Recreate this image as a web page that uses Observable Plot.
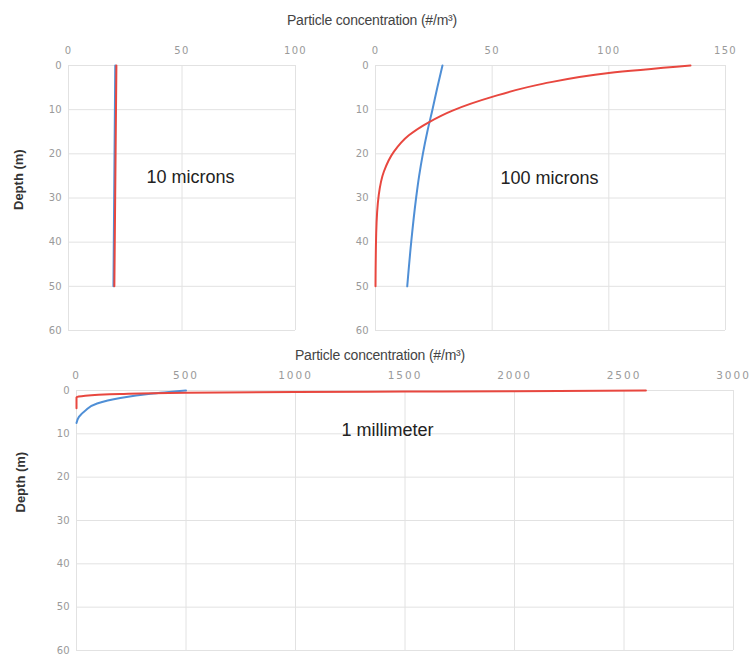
<!DOCTYPE html>
<html>
<head>
<meta charset="utf-8">
<script src="https://cdn.jsdelivr.net/npm/d3@7"></script>
<script src="https://cdn.jsdelivr.net/npm/@observablehq/plot@0.6"></script>
<style>
  html, body { margin: 0; padding: 0; background: #fff; }
  #wrap { position: relative; width: 755px; height: 657px; overflow: hidden; font-family: "Liberation Sans", Arial, sans-serif; }
  .panel { position: absolute; }
  .title { position: absolute; font-size: 14px; color: #444; white-space: nowrap; transform: translate(-50%, -50%); letter-spacing: -0.2px; }
  .panel svg g[aria-label="x-axis tick label"] text { font-family: "DejaVu Sans", sans-serif !important; letter-spacing: 1.3px; font-size: 10px; }
  .panel.wide svg g[aria-label="x-axis tick label"] text { letter-spacing: 2px; font-size: 10.5px; }
  .panel svg g[aria-label="y-axis tick label"] text { font-family: "DejaVu Sans", sans-serif !important; font-size: 10px; }
</style>
</head>
<body>
<div id="wrap"></div>
<script>
// ---- data ----
const titleText = "Particle concentration (#/m³)";
const depthLabel = "Depth (m)";
const depthTicks = [0, 10, 20, 30, 40, 50, 60];

// 10 microns
const p1Label = "10 microns";
const p1Ticks = [0, 50, 100];
const p1BlueDepth = [0, 50];
const p1BlueConc  = [20.6, 19.8];
const p1RedDepth  = [0, 50];
const p1RedConc   = [21.1, 20.2];

// 100 microns
const p2Label = "100 microns";
const p2Ticks = [0, 50, 100, 150];
const p2BlueDepth = [0, 5, 10, 15, 20, 25, 30, 40, 50];
const p2BlueConc  = [28.7, 26.5, 24.4, 22.2, 20.3, 18.7, 17.4, 15.3, 13.6];
const p2RedDepth  = [0, 1.7, 4.1, 7.1, 10.2, 12.8, 15.8, 19.5, 24, 29.3, 38, 50];
const p2RedConc   = [135, 100, 72, 50, 33, 23, 14.3, 7.9, 3.6, 1.4, 0.3, 0];

// 1 millimeter
const p3Label = "1 millimeter";
const p3Ticks = [0, 500, 1000, 1500, 2000, 2500, 3000];
const p3BlueDepth = [0, 0.75, 1.75, 3.0, 4.6, 6.1, 7.5];
const p3BlueConc  = [500, 338, 200, 94, 41, 11, 0];
const p3RedDepth  = [0, 0.15, 0.25, 0.35, 0.5, 0.8, 1.0, 1.2, 1.4, 1.55, 4.1];
const p3RedConc   = [2600, 2000, 1500, 1000, 500, 200, 100, 40, 10, 0, 0];

const blue = "#4f8fd6";
const red = "#e8473f";

const toRows = (depth, conc) => depth.map((d, i) => ({depth: d, conc: conc[i]}));

function panel({width, height, mt, mr, mb, ml, xDomain, xTicks, label, labelDx, labelDy, blueRows, redRows, showDepth, depthDx, depthDy}) {
  return Plot.plot({
    width, height,
    marginTop: mt, marginRight: mr, marginBottom: mb, marginLeft: ml,
    style: {fontFamily: "Liberation Sans, Arial, sans-serif", fontSize: "10px", background: "transparent", overflow: "visible"},
    x: {domain: xDomain},
    y: {domain: [0, 60], reverse: true},
    marks: [
      Plot.gridX(xTicks, {stroke: "#e2e2e2", strokeOpacity: 1}),
      Plot.gridY(depthTicks, {stroke: "#e2e2e2", strokeOpacity: 1}),
      Plot.axisX(xTicks, {anchor: "top", tickSize: 0, tickPadding: 12, label: null, tickFormat: (d) => String(d), fill: "#9a9a9a"}),
      Plot.axisY(depthTicks, {anchor: "left", tickSize: 0, tickPadding: 7, label: null, tickFormat: (d) => String(d), fill: "#9a9a9a"}),
      Plot.line(blueRows, {x: "conc", y: "depth", stroke: blue, strokeWidth: 2, curve: "monotone-y"}),
      Plot.line(redRows, {x: "conc", y: "depth", stroke: red, strokeWidth: 2, curve: "monotone-y"}),
      Plot.text([label], {frameAnchor: "middle", dx: labelDx, dy: labelDy, fontSize: 18, fill: "#222"}),
      showDepth ? Plot.text([depthLabel], {frameAnchor: "left", rotate: -90, dx: depthDx, dy: depthDy, fontSize: 13, fontWeight: "bold", fill: "#333"}) : null
    ]
  });
}

const wrap = document.getElementById("wrap");
function place(node, left, top, cls) {
  const d = document.createElement("div");
  d.className = "panel" + (cls ? " " + cls : "");
  d.style.left = left + "px";
  d.style.top = top + "px";
  d.appendChild(node);
  wrap.appendChild(d);
}
function title(text, cx, cy) {
  const d = document.createElement("div");
  d.className = "title";
  d.style.left = cx + "px";
  d.style.top = cy + "px";
  d.textContent = text;
  wrap.appendChild(d);
}

place(panel({width: 320, height: 340, mt: 65, mr: 25, mb: 10, ml: 68,
  xDomain: [0, 100], xTicks: p1Ticks, label: p1Label, labelDx: 8.5, labelDy: -21,
  blueRows: toRows(p1BlueDepth, p1BlueConc), redRows: toRows(p1RedDepth, p1RedConc),
  showDepth: true, depthDx: -50, depthDy: 12}), 0, 0);

place(panel({width: 425, height: 340, mt: 65, mr: 30, mb: 10, ml: 45,
  xDomain: [0, 150], xTicks: p2Ticks, label: p2Label, labelDx: -1, labelDy: -19.5,
  blueRows: toRows(p2BlueDepth, p2BlueConc), redRows: toRows(p2RedDepth, p2RedConc),
  showDepth: false}), 330, 0);

place(panel({width: 755, height: 317, mt: 50, mr: 22, mb: 7, ml: 76,
  xDomain: [0, 3000], xTicks: p3Ticks, label: p3Label, labelDx: -17.5, labelDy: -90,
  blueRows: toRows(p3BlueDepth, p3BlueConc), redRows: toRows(p3RedDepth, p3RedConc),
  showDepth: true, depthDx: -56, depthDy: -8}), 0, 340, "wide");

title(titleText, 372, 20);
title(titleText, 380, 355);
</script>
</body>
</html>
